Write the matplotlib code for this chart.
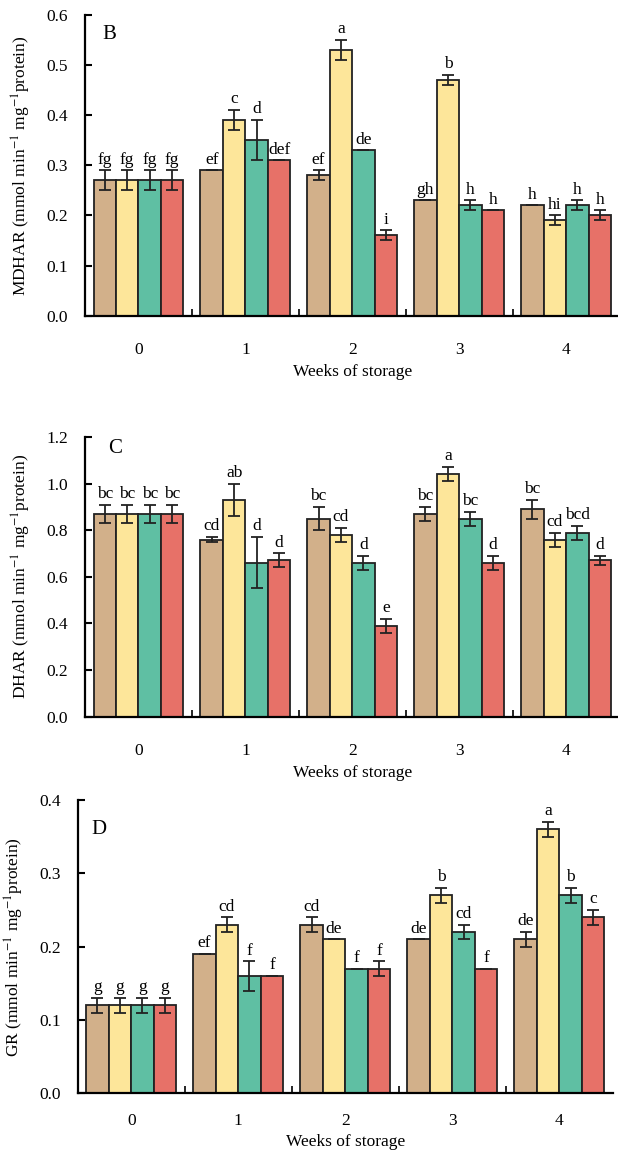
import numpy as np
import matplotlib
matplotlib.use("Agg")
import matplotlib.pyplot as plt
from matplotlib.ticker import FormatStrFormatter, FixedLocator

plt.rcParams["font.family"] = ["Liberation Serif", "DejaVu Serif"]
plt.rcParams["font.size"] = 12
plt.rcParams["mathtext.fontset"] = "stix"

weeks = ["0", "1", "2", "3", "4"]
colors = ["#D2B08A", "#FDE69A", "#5FBFA3", "#E77168"]

# MDHAR (panel B): rows = treatments, cols = weeks
mdhar = [[0.27, 0.29, 0.28, 0.23, 0.22],
         [0.27, 0.39, 0.53, 0.47, 0.19],
         [0.27, 0.35, 0.33, 0.22, 0.22],
         [0.27, 0.31, 0.16, 0.21, 0.20]]
mdhar_err = [[0.02, 0.00, 0.01, 0.00, 0.00],
             [0.02, 0.02, 0.02, 0.01, 0.01],
             [0.02, 0.04, 0.00, 0.01, 0.01],
             [0.02, 0.00, 0.01, 0.00, 0.01]]
mdhar_lab = [["fg", "ef", "ef", "gh", "h"],
             ["fg", "c", "a", "b", "hi"],
             ["fg", "d", "de", "h", "h"],
             ["fg", "def", "i", "h", "h"]]

# DHAR (panel C)
dhar = [[0.87, 0.76, 0.85, 0.87, 0.89],
        [0.87, 0.93, 0.78, 1.04, 0.76],
        [0.87, 0.66, 0.66, 0.85, 0.79],
        [0.87, 0.67, 0.39, 0.66, 0.67]]
dhar_err = [[0.04, 0.01, 0.05, 0.03, 0.04],
            [0.04, 0.07, 0.03, 0.03, 0.03],
            [0.04, 0.11, 0.03, 0.03, 0.03],
            [0.04, 0.03, 0.03, 0.03, 0.02]]
dhar_lab = [["bc", "cd", "bc", "bc", "bc"],
            ["bc", "ab", "cd", "a", "cd"],
            ["bc", "d", "d", "bc", "bcd"],
            ["bc", "d", "e", "d", "d"]]

# GR (panel D)
gr = [[0.12, 0.19, 0.23, 0.21, 0.21],
      [0.12, 0.23, 0.21, 0.27, 0.36],
      [0.12, 0.16, 0.17, 0.22, 0.27],
      [0.12, 0.16, 0.17, 0.17, 0.24]]
gr_err = [[0.01, 0.00, 0.01, 0.00, 0.01],
          [0.01, 0.01, 0.00, 0.01, 0.01],
          [0.01, 0.02, 0.00, 0.01, 0.01],
          [0.01, 0.00, 0.01, 0.00, 0.01]]
gr_lab = [["g", "ef", "cd", "de", "de"],
          ["g", "cd", "de", "b", "a"],
          ["g", "f", "f", "cd", "b"],
          ["g", "f", "f", "f", "c"]]


def panel(ax, vals, errs, labs, ymax, ystep, ylabel, letter, lpos, xpad):
    x = np.arange(len(weeks))
    w = 0.21
    for i in range(4):
        xi = x + (i - 1.5) * w
        v = np.array(vals[i])
        e = np.array(errs[i])
        ax.bar(xi, v, w, color=colors[i], edgecolor="#222222", linewidth=1.3,
               yerr=e, capsize=4,
               error_kw=dict(ecolor="#222222", elinewidth=1.3, capthick=1.3))
        for xx, vv, ee, ll in zip(xi, v, e, labs[i]):
            ax.annotate(ll, (xx, vv + ee), xytext=(0, 2),
                        textcoords="offset points", ha="center", va="bottom",
                        fontsize=12.5)
    ax.set_xlim(-0.5, 4.5)
    ax.set_ylim(0, ymax)
    ax.set_yticks(np.arange(0, ymax + 1e-9, ystep))
    ax.yaxis.set_major_formatter(FormatStrFormatter("%.1f"))
    ax.set_xticks(x)
    ax.set_xticklabels(weeks)
    ax.xaxis.set_minor_locator(FixedLocator([0.5, 1.5, 2.5, 3.5]))
    ax.tick_params(axis="x", which="major", length=0, pad=xpad,
                   labelsize=12.5)
    ax.tick_params(axis="x", which="minor", direction="in", length=5,
                   width=1.2)
    ax.tick_params(axis="y", direction="in", length=5, width=1.5, pad=12,
                   labelsize=12.5)
    for s in ["top", "right"]:
        ax.spines[s].set_visible(False)
    for s in ["left", "bottom"]:
        ax.spines[s].set_linewidth(1.6)
    ax.set_xlabel("Weeks of storage", fontsize=12.5, labelpad=4)
    ax.set_ylabel(ylabel, fontsize=12.5, labelpad=10)
    ax.text(lpos[0], lpos[1], letter, transform=ax.transAxes, fontsize=15,
            ha="center", va="center")


fig = plt.figure(figsize=(6.18, 11.55), dpi=100)
axB = fig.add_axes([0.1375, 0.7267, 0.865, 0.2603])
axC = fig.add_axes([0.1375, 0.3795, 0.865, 0.2422])
axD = fig.add_axes([0.1257, 0.0534, 0.866, 0.2539])

panel(axB, mdhar, mdhar_err, mdhar_lab, 0.6, 0.1,
      r"MDHAR (mmol min$^{-1}$ mg$^{-1}$protein)", "B", (0.045, 0.934), 19)
panel(axC, dhar, dhar_err, dhar_lab, 1.2, 0.2,
      r"DHAR (mmol min$^{-1}$ mg$^{-1}$protein)", "C", (0.056, 0.96), 19)
panel(axD, gr, gr_err, gr_lab, 0.4, 0.1,
      r"GR (mmol min$^{-1}$ mg$^{-1}$protein)", "D", (0.04, 0.90), 14)

fig.savefig("out.png", dpi=100)
